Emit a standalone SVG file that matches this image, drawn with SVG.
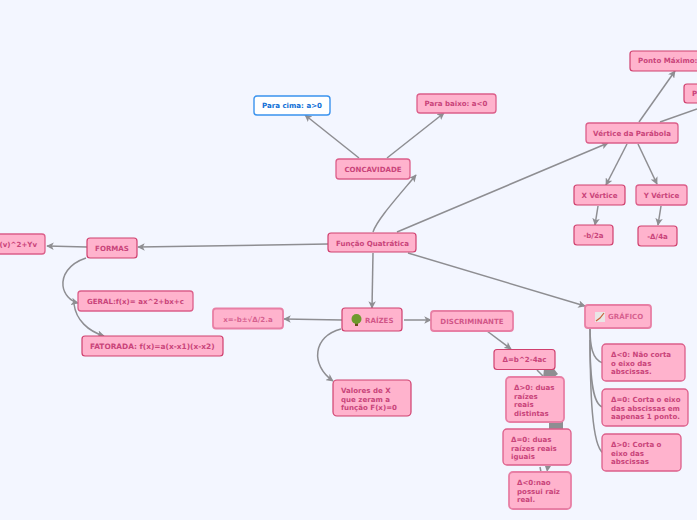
<svg xmlns="http://www.w3.org/2000/svg" width="697" height="520" viewBox="0 0 697 520">
<style>
.n{fill:#ffb3cd;stroke:#d0406f;stroke-width:1.2}
.f{fill:#ffb3cd;stroke:#e87fa5;stroke-width:1.8}
.m{fill:#ffb3cd;stroke:#dc5f8a;stroke-width:1.3}
.w{fill:#fff;stroke:#3a93ee;stroke-width:1.4}
text{font-family:"DejaVu Sans",sans-serif;font-size:7.05px;font-weight:700;fill:#c9447a}
.c{text-anchor:middle}
.b{fill:#0f6fd6}
.l{fill:none;stroke:#8e8e92;stroke-width:1.5}
.h{fill:#8e8e92;stroke:none}
</style>
<defs>
<marker id="a" viewBox="0 0 10 10" refX="9" refY="5" markerWidth="7.500" markerHeight="7.500" orient="auto" markerUnits="userSpaceOnUse"><path d="M0 0L10 5L0 10L2.500 5Z" fill="#8e8e92"/></marker>
</defs>
<rect width="697" height="520" fill="#f3f6ff"/>
<g id="connectors">
<path class="l" marker-end="url(#a)" d="M373 232C377 220 395 200 416 175"/>
<path class="l" marker-end="url(#a)" d="M359 158L305 115"/>
<path class="l" marker-end="url(#a)" d="M387 158L444 113"/>
<path class="l" marker-end="url(#a)" d="M397 232L608 143"/>
<path class="l" marker-end="url(#a)" d="M639 122L675 71"/>
<path class="l" d="M660 122L697 109"/>
<path class="l" marker-end="url(#a)" d="M627 144L606 185"/>
<path class="l" marker-end="url(#a)" d="M638 144L657 184"/>
<path class="l" marker-end="url(#a)" d="M598 206L595 225"/>
<path class="l" marker-end="url(#a)" d="M661 206L658 225"/>
<path class="l" marker-end="url(#a)" d="M328 244L138 247"/>
<path class="l" marker-end="url(#a)" d="M87 247L47 246"/>
<path class="l" marker-end="url(#a)" d="M86 258C68 264 62 276 63 286C64 294 70 301 78 303"/>
<path class="l" marker-end="url(#a)" d="M74 304C76 320 88 331 104 336"/>
<path class="l" marker-end="url(#a)" d="M373 253L372 308"/>
<path class="l" marker-end="url(#a)" d="M342 320L284 319"/>
<path class="l" marker-end="url(#a)" d="M341 329C313 336 310 365 333 381"/>
<path class="l" marker-end="url(#a)" d="M404 320L431 320"/>
<path class="l" marker-end="url(#a)" d="M408 253L585 306"/>
<path class="l" marker-end="url(#a)" d="M487 331L511 349"/>
<path class="l" d="M537 370L543 376"/>
<path class="h" d="M544 369H554L558 374L553 378H543Z"/>
<path class="h" d="M549 421H563V429H549Z"/>
<path class="l" d="M540 467L541 472"/>
<path class="h" d="M545 466H551L547 472Z"/>
<path class="l" d="M590 328C590 345 592 360 603 363"/>
<path class="l" d="M590 340C590 380 593 405 603 407"/>
<path class="l" d="M590 328C590 395 592 445 603 453"/>
</g>
<g id="node-central"><rect class="n" x="328" y="233" width="88" height="19" rx="3"/><text class="c" x="372.500" y="246">Função Quatrática</text></g>
<g id="node-concavidade"><rect class="m" x="336" y="159" width="74" height="20" rx="3"/><text class="c" x="373" y="172">CONCAVIDADE</text></g>
<g id="node-cima"><rect class="w" x="254" y="96" width="76" height="19" rx="3"/><text class="c b" x="292" y="108">Para cima: a&gt;0</text></g>
<g id="node-baixo"><rect class="m" x="417" y="94" width="79" height="19" rx="3"/><text class="c" x="456" y="106">Para baixo: a&lt;0</text></g>
<g id="node-vertice"><rect class="m" x="586" y="123" width="92" height="20" rx="3"/><text class="c" x="632" y="136">Vértice da Parábola</text></g>
<g id="node-maximo"><rect class="n" x="630" y="51" width="80" height="20" rx="3"/><text x="638" y="63">Ponto Máximo:</text></g>
<g id="node-p"><rect class="n" x="684" y="84" width="40" height="19" rx="3"/><text x="692" y="96">P</text></g>
<g id="node-xv"><rect class="n" x="574" y="185" width="51" height="20" rx="3"/><text class="c" x="599.500" y="198">X Vértice</text></g>
<g id="node-yv"><rect class="m" x="636" y="185" width="51" height="20" rx="3"/><text class="c" x="661.500" y="198">Y Vértice</text></g>
<g id="node-b2a"><rect class="n" x="574" y="225" width="39" height="20" rx="3"/><text class="c" x="593.500" y="238">-b/2a</text></g>
<g id="node-d4a"><rect class="n" x="638" y="226" width="39" height="20" rx="3"/><text class="c" x="657.500" y="239">-Δ/4a</text></g>
<g id="node-formas"><rect class="n" x="87" y="238" width="50" height="20" rx="3"/><text class="c" x="112" y="251">FORMAS</text></g>
<g id="node-canonica"><rect class="m" x="-30" y="234" width="75" height="20" rx="3"/><text text-anchor="end" x="37" y="247">(v)^2+Yv</text></g>
<g id="node-geral"><rect class="m" x="78" y="291" width="115" height="20" rx="3"/><text x="87" y="304">GERAL:f(x)= ax^2+bx+c</text></g>
<g id="node-fatorada"><rect class="n" x="82" y="336" width="141" height="20" rx="3"/><text x="90" y="349" style="font-size:7.4px">FATORADA: f(x)=a(x-x1)(x-x2)</text></g>
<g id="node-bhaskara"><rect class="f" x="213" y="308.500" width="70" height="20" rx="3"/><text class="c" x="248" y="322" fill-opacity=".75">x=-b±√Δ/2.a</text></g>
<g id="node-raizes"><rect class="n" x="342" y="308" width="60" height="23" rx="3"/><path fill="#6b4a1f" d="M355 323h3v3h-3z"/><circle cx="356.500" cy="319" r="5" fill="#6d9a2c"/><text x="365" y="323" fill-opacity=".85">RAÍZES</text></g>
<g id="node-valores"><rect class="n" x="333" y="380" width="78" height="36" rx="4"/><text x="341" y="393">Valores de X</text><text x="341" y="401.500">que zeram a</text><text x="341" y="410">função F(x)=0</text></g>
<g id="node-discriminante"><rect class="f" x="431" y="311" width="82" height="20" rx="3"/><text class="c" x="472" y="324" fill-opacity=".85">DISCRIMINANTE</text></g>
<g id="node-formula"><rect class="n" x="494" y="349.500" width="61" height="20" rx="3"/><text class="c" x="524.500" y="362">Δ=b^2-4ac</text></g>
<g id="node-d1"><rect class="f" x="506" y="377" width="58" height="45" rx="4"/><text x="514" y="390">Δ&gt;0: duas</text><text x="514" y="398.500">raízes</text><text x="514" y="407">reais</text><text x="514" y="415.500">distintas</text></g>
<g id="node-d2"><rect class="m" x="503" y="429" width="68" height="36" rx="4"/><text x="511" y="442">Δ=0: duas</text><text x="511" y="450.500">raízes reais</text><text x="511" y="459">iguais</text></g>
<g id="node-d3"><rect class="f" x="509" y="472" width="62" height="37" rx="4"/><text x="517" y="485">Δ&lt;0:nao</text><text x="517" y="494">possui raiz</text><text x="517" y="502">real.</text></g>
<g id="node-grafico"><rect class="f" x="585" y="305" width="66" height="23" rx="3"/><rect x="595" y="312" width="10" height="10" fill="#e9e6e6"/><path d="M596 321L600 318L604 313" fill="none" stroke="#c8603a" stroke-width="1.200"/><text x="608" y="319" fill-opacity=".75">GRÁFICO</text></g>
<g id="node-g1"><rect class="m" x="602" y="344" width="83" height="37" rx="4"/><text x="611" y="357">Δ&lt;0: Não corta</text><text x="611" y="365.500">o eixo das</text><text x="611" y="374">abscissas.</text></g>
<g id="node-g2"><rect class="m" x="602" y="389" width="86" height="37" rx="4"/><text x="611" y="402">Δ=0: Corta o eixo</text><text x="611" y="410.500">das abscissas em</text><text x="611" y="419">aapenas 1 ponto.</text></g>
<g id="node-g3"><rect class="m" x="602" y="434" width="79" height="37" rx="4"/><text x="611" y="447">Δ&gt;0: Corta o</text><text x="611" y="455.500">eixo das</text><text x="611" y="464">abscissas</text></g>
</svg>
